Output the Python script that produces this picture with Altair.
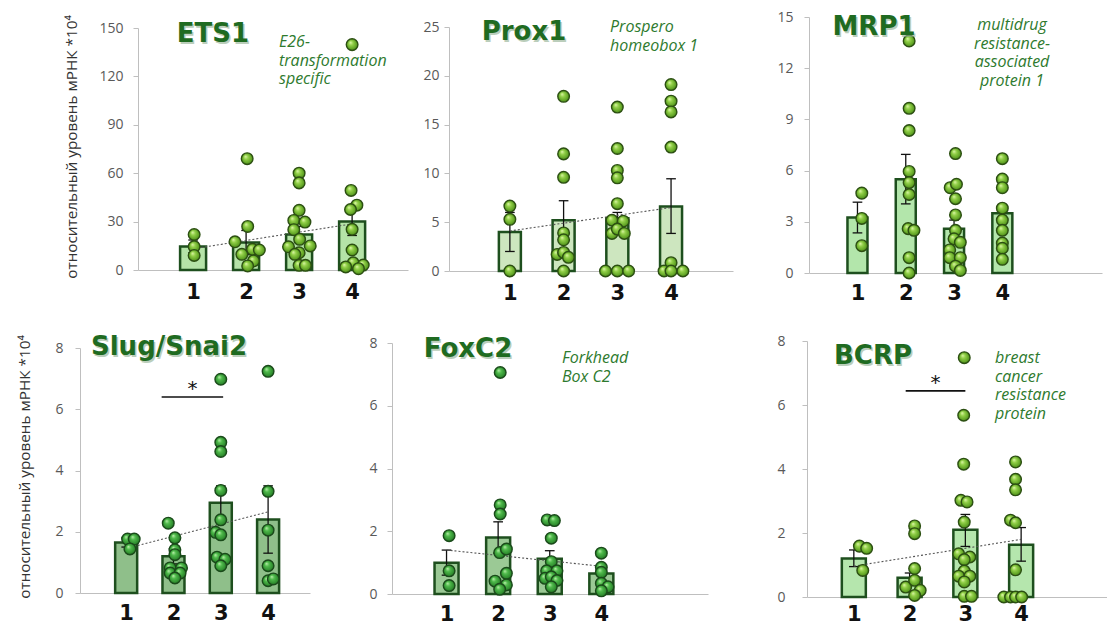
import altair as alt
import pandas as pd

W, H = 1099, 618
cats = [1, 2, 3, 4]

# ---------------- data ----------------
ets1_mean = [14.5, 17, 22, 30]
ets1_lo = [10.7, 9.5, 17, 21.4]
ets1_hi = [18.6, 24.5, 27, 38.6]
ets1_pts = [
    [22, 14.5, 9],
    [69, 27, 17.5, 12.8, 12.4, 9.7, 5.6, 2.5],
    [60, 54, 37, 30.7, 29.7, 25, 19, 14.4, 14.9, 10.7, 9.7, 2.9, 2.9],
    [139.7, 49.3, 40.2, 37.5, 25.2, 12.4, 4.5, 3.1, 1.9, 0.8],
]
ets1_jit = [
    [0.02, 0.02, 0.02],
    [0.02, 0.03, -0.21, 0.12, 0.25, -0.08, 0.14, 0.03],
    [0, 0, 0, -0.1, 0.11, -0.1, 0.01, -0.2, 0.21, 0, -0.08, 0, 0.12],
    [0, -0.02, 0.09, -0.03, 0, 0, 0.02, 0.21, -0.12, 0.12],
]

prox_mean = [4.0, 5.2, 5.4, 6.6]
prox_lo = [2.0, 3.2, 4.8, 3.85]
prox_hi = [6.0, 7.2, 6.0, 9.45]
prox_pts = [
    [6.65, 5.3, 0],
    [17.9, 12.0, 9.6, 3.9, 3.2, 1.7, 1.9, 1.4, 0],
    [16.8, 12.55, 10.3, 9.55, 6.9, 5.2, 5.1, 3.85, 4.3, 3.85, 0, 0, 0],
    [19.1, 17.4, 16.3, 12.7, 0.85, 0, 0, 0],
]
prox_jit = [
    [0, 0, 0],
    [0, 0, 0, 0, 0, -0.12, 0, 0.09, 0],
    [0, 0, 0, 0, 0, -0.1, 0.11, -0.1, 0, 0.13, -0.22, 0, 0.21],
    [0, 0, 0, 0, 0, -0.13, 0, 0.22],
]

mrp_mean = [3.25, 5.5, 2.6, 3.5]
mrp_lo = [2.35, 4.05, 2.1, 3.0]
mrp_hi = [4.15, 6.95, 3.1, 4.0]
mrp_pts = [
    [4.68, 3.2, 1.6],
    [13.6, 9.65, 8.35, 5.95, 5.3, 4.6, 2.6, 2.5, 0.9, 0],
    [7.0, 5.0, 5.2, 4.35, 3.4, 2.5, 2.0, 1.35, 1.8, 0.9, 0.9, 0.4, 0.15],
    [6.7, 5.5, 5.0, 3.8, 3.1, 2.5, 1.75, 1.45, 0.8],
]
mrp_jit = [
    [0.09, 0.09, 0.09],
    [0.07, 0.07, 0.07, 0.07, 0.07, 0.07, 0.05, 0.17, 0.07, 0.07],
    [0.03, -0.08, 0.05, 0.03, 0.03, 0.03, 0, -0.09, 0.13, -0.09, 0.13, 0.03, 0.13],
    [0, 0, 0, 0, 0, 0, 0, 0, 0],
]

slug_mean = [1.65, 1.2, 2.95, 2.4]
slug_lo = [1.5, 0.95, 2.4, 1.3]
slug_hi = [1.8, 1.45, 3.5, 3.5]
slug_pts = [
    [1.76, 1.76, 1.44],
    [2.28, 1.8, 1.41, 1.25, 0.82, 0.82, 0.65, 0.65, 0.49],
    [6.98, 4.92, 4.62, 3.35, 2.39, 1.98, 1.9, 1.17, 1.1, 0.89],
    [7.24, 3.32, 2.05, 0.89, 0.4, 0.46],
]
slug_jit = [
    [0.03, 0.17, 0.08],
    [-0.11, 0.03, 0.03, 0.03, -0.07, 0.17, -0.07, 0.14, 0.03],
    [0, 0, 0, 0, 0, -0.11, 0, -0.08, 0.09, 0],
    [0, 0, 0, 0, 0, 0.11],
]
slug_sig = [1.75, 3.05, 6.4]

fox_mean = [1.0, 1.8, 1.12, 0.65]
fox_lo = [0.6, 1.3, 0.86, 0.45]
fox_hi = [1.4, 2.3, 1.38, 0.85]
fox_pts = [
    [1.86, 0.74, 0.27],
    [7.06, 2.84, 2.55, 1.32, 1.43, 0.66, 0.41, 0.29, 0.15],
    [2.36, 2.34, 1.78, 1.03, 0.74, 0.74, 0.5, 0.55, 0.43, 0.23],
    [1.3, 0.85, 0.69, 0.34, 0.23, 0.1],
]
fox_jit = [
    [0.05, 0.05, 0.05],
    [0.04, 0.04, 0.04, 0.03, 0.16, 0.16, -0.06, 0.16, 0.03],
    [-0.05, 0.09, 0.03, 0.03, -0.06, 0.14, -0.09, 0.03, 0.14, 0.03],
    [0, 0, 0, 0, 0.13, 0],
]

bcrp_mean = [1.2, 0.6, 2.1, 1.63]
bcrp_lo = [0.95, 0.45, 1.58, 1.12]
bcrp_hi = [1.47, 0.75, 2.58, 2.17]
bcrp_pts = [
    [1.59, 1.52, 0.83],
    [2.22, 1.98, 0.89, 0.31, 0.52, 0.21, 0.05],
    [7.48, 5.68, 4.15, 3.02, 2.97, 2.34, 1.35, 1.25, 1.17, 0.81, 0.65, 0.65, 0.47, 0.02, 0.02],
    [4.22, 3.68, 3.35, 2.4, 2.32, 0.85, 0, 0, 0, 0],
]
bcrp_jit = [
    [0.1, 0.23, 0.16],
    [0.09, 0.09, 0.09, -0.07, 0.09, 0.19, 0.09],
    [-0.02, -0.03, -0.03, -0.08, 0.03, -0.02, -0.12, 0.08, -0.02, -0.02, -0.12, 0.08, -0.02, -0.02, 0.11],
    [-0.1, -0.1, -0.1, -0.19, -0.1, -0.1, -0.31, -0.19, -0.1, 0.01],
]
bcrp_sig = [1.93, 3.0, 6.44]

ytitle = "относительный уровень мРНК *10⁴"

# ---------------- styles ----------------
AXIS_GRAY = "#bfbfbf"
BAR_STROKE = "#1e4f1e"


def grad(c0, c1, c2, c3):
    return alt.RadialGradient(
        gradient="radial",
        stops=[
            alt.GradientStop(color=c0, offset=0),
            alt.GradientStop(color=c1, offset=0.35),
            alt.GradientStop(color=c2, offset=0.8),
            alt.GradientStop(color=c3, offset=1),
        ],
        x1=0.35, y1=0.3, r1=0, x2=0.5, y2=0.5, r2=0.55,
    )


LIGHT_PT = grad("#e2f9b0", "#92d048", "#5c9f22", "#3b7414")
DARK_PT = grad("#c0f2b0", "#4fba4b", "#2e8b2e", "#1c5e1c")


def panel(means, lo, hi, pts, jit, xrange, xdomain, yrange, ydomain, yticks,
          lab_pad, xlab_pad, bar_fill, bar_w, pt_fill, pt_stroke,
          trend=True, sig=None):
    yaxis = alt.Axis(orient="left", values=yticks, offset=-xrange[0], grid=False,
                     domainColor=AXIS_GRAY, tickColor=AXIS_GRAY, tickSize=5,
                     labelColor="#595959", labelFont="Open Sans", labelFontSize=14,
                     labelPadding=lab_pad, title=None)
    xaxis = alt.Axis(orient="bottom", values=cats, format="d", offset=yrange[0] - H,
                     grid=False, ticks=False, domainColor=AXIS_GRAY,
                     labelColor="#111111", labelFont="DejaVu Sans", labelFontSize=21,
                     labelFontWeight="bold", labelPadding=xlab_pad, title=None)
    xs = alt.Scale(domain=xdomain, range=xrange, nice=False, zero=False)
    ys = alt.Scale(domain=ydomain, range=yrange, nice=False, zero=False)
    ppu = (xrange[1] - xrange[0]) / (xdomain[1] - xdomain[0])
    cap = 5.0 / ppu

    def X(f):
        return alt.X(f, type="quantitative", scale=xs, axis=xaxis)

    def Y(f):
        return alt.Y(f, type="quantitative", scale=ys, axis=yaxis)

    bdf = pd.DataFrame({"x": cats, "y": means, "lo": lo, "hi": hi})
    rows = []
    for ci, (vals, js) in enumerate(zip(pts, jit)):
        for v, j in zip(vals, js):
            rows.append({"x": cats[ci] + j, "y": v})
    pdf = pd.DataFrame(rows)

    bars = alt.Chart(bdf).transform_calculate(z="0").mark_bar(
        size=bar_w, fill=bar_fill, stroke=BAR_STROKE, strokeWidth=2.5
    ).encode(x=X("x"), y=Y("y"), y2=alt.Y2("z:Q"))

    err = alt.Chart(bdf).mark_rule(color="#111111", strokeWidth=1.3).encode(
        x=X("x"), y=Y("lo"), y2=alt.Y2("hi"))
    caps = alt.Chart(bdf).transform_fold(["lo", "hi"], as_=["k", "v"]).transform_calculate(
        xa=f"datum.x - {cap}", xb=f"datum.x + {cap}"
    ).mark_rule(color="#111111", strokeWidth=1.3).encode(
        x=X("xa"), x2=alt.X2("xb"), y=Y("v"))

    layers = [bars, err, caps]
    if trend:
        tr = alt.Chart(bdf).transform_regression("x", "y", extent=[1, 4]).mark_line(
            color="#555555", strokeWidth=1.1, strokeDash=[2, 2]
        ).encode(x=X("x"), y=Y("y"))
        layers.append(tr)

    points = alt.Chart(pdf).mark_circle(
        size=135, opacity=1, fill=pt_fill, stroke=pt_stroke, strokeWidth=1.4
    ).encode(x=X("x"), y=Y("y"))
    layers.append(points)

    if sig is not None:
        sdf = pd.DataFrame({"x": [sig[0]], "x2": [sig[1]], "y": [sig[2]],
                            "xm": [(sig[0] + sig[1]) / 2], "t": ["*"]})
        srule = alt.Chart(sdf).mark_rule(color="#111111", strokeWidth=1.6).encode(
            x=X("x"), x2=alt.X2("x2"), y=Y("y"))
        stext = alt.Chart(sdf).mark_text(
            fontSize=20, font="DejaVu Sans", color="#111111", baseline="bottom", dy=2
        ).encode(x=X("xm"), y=Y("y"), text="t:N")
        layers += [srule, stext]

    return alt.layer(*layers)


p1 = panel(ets1_mean, ets1_lo, ets1_hi, ets1_pts, ets1_jit,
           [130, 400], [0.055, 4.96], [262, 20], [0, 150], [0, 30, 60, 90, 120, 150],
           10, 11, "#b5e3a8", 26, LIGHT_PT, "#2c4f12")
p2 = panel(prox_mean, prox_lo, prox_hi, prox_pts, prox_jit,
           [441, 725], [-0.04, 5.06], [263, 19], [0, 25], [0, 5, 10, 15, 20, 25],
           5, 11, "#cde6bf", 22, LIGHT_PT, "#2c4f12")
p3 = panel(mrp_mean, mrp_lo, mrp_hi, mrp_pts, mrp_jit,
           [801, 1094], [0.1, 5.96], [265, 9], [0, 15], [0, 3, 6, 9, 12, 15],
           11, 9, "#b3e6ab", 20, LIGHT_PT, "#2c4f12", trend=False)
p4 = panel(slug_mean, slug_lo, slug_hi, slug_pts, slug_jit,
           [72, 302], [0.13, 4.78], [585, 340], [0, 8], [0, 2, 4, 6, 8],
           12, 9, "#8fbf8a", 22, DARK_PT, "#1a4a1a", sig=slug_sig)
p5 = panel(fox_mean, fox_lo, fox_hi, fox_pts, fox_jit,
           [384, 700], [0.04, 5.97], [586, 335], [0, 8], [0, 2, 4, 6, 8],
           10, 9, "#9bc995", 24, DARK_PT, "#1a4a1a")
p6 = panel(bcrp_mean, bcrp_lo, bcrp_hi, bcrp_pts, bcrp_jit,
           [799, 1099], [0.25, 5.45], [589, 333], [0, 8], [0, 2, 4, 6, 8],
           17, 6, "#b5e6ad", 24, LIGHT_PT, "#2c4f12", sig=bcrp_sig)

_one = pd.DataFrame({"a": [0]})


def label(text, x, y, **kw):
    return alt.Chart(_one).mark_text(text=text, **kw).encode(x=alt.value(x), y=alt.value(y))


def gene(text, x, y):
    shadow = label(text, x + 1.5, y + 1.5, font="DejaVu Sans", fontSize=26, fontWeight="bold",
                   color="#8fae8f", opacity=0.6, align="center", baseline="middle")
    main = label(text, x, y, font="DejaVu Sans", fontSize=26, fontWeight="bold",
                 color="#1f6b21", align="center", baseline="middle")
    return [shadow, main]


def desc(lines, x, y, align="left"):
    return label(lines, x, y, font="Open Sans", fontSize=16, fontStyle="italic",
                 color="#2e7a2e", align=align, baseline="alphabetic", lineHeight=18.5)


texts = []
texts += gene("ETS1", 205, 26)
texts += gene("Prox1", 516, 24)
texts += gene("MRP1", 866, 19)
texts += gene("Slug/Snai2", 161, 339)
texts += gene("FoxC2", 460, 341)
texts += gene("BCRP", 865, 348)
texts.append(desc(["E26-", "transformation", "specific"], 271, 39))
texts.append(desc(["Prospero", "homeobox 1"], 602, 24))
texts.append(desc(["multidrug", "resistance-", "associated", "protein 1"], 1004, 22, align="center"))
texts.append(desc(["Forkhead", "Box C2"], 554, 355))
texts.append(desc(["breast", "cancer", "resistance", "protein"], 987, 355))
for (tx, ty) in [(64, 139), (17, 459)]:
    texts.append(label(ytitle, tx, ty, font="Open Sans", fontSize=15.3, color="#333333",
                       angle=270, align="center", baseline="middle"))

chart = alt.layer(p1, p2, p3, p4, p5, p6, *texts).resolve_scale(
    x="independent", y="independent"
).resolve_axis(
    x="independent", y="independent"
).properties(
    width=W, height=H, padding=0,
    autosize=alt.AutoSizeParams(type="none"),
    background="white",
).configure_view(strokeWidth=0)

chart.save("out.html", embed_options={"renderer": "svg", "actions": False})
